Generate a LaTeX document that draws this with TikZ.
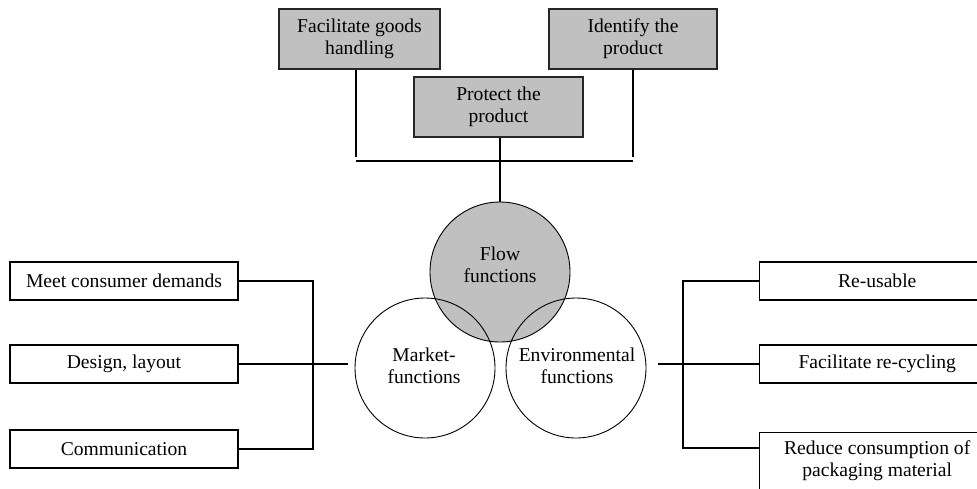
\documentclass[tikz,border=0pt]{standalone}
\usepackage{fontspec}
\setmainfont{Liberation Serif}
\definecolor{boxgray}{HTML}{C0C0C0}
\begin{document}
\begin{tikzpicture}[x=1pt,y=-1pt,
  font=\fontsize{19.6}{22}\selectfont,
  conn/.style={draw=black,line width=1.1pt},
  wbox/.style={draw=black,line width=1.4pt,fill=white,inner sep=0pt,align=center,minimum height=38pt},
  gbox/.style={draw=black!85,line width=1.4pt,fill=boxgray,inner sep=0pt,align=center,minimum height=60pt},
  circ/.style={circle,draw=black,line width=0.9pt,inner sep=0pt,minimum size=140pt,align=center}]
\useasboundingbox (0,0) rectangle (977,488);
% top grey boxes
\node[gbox,minimum width=161pt] (fac) at (359.5,39) {Facilitate goods\\handling};
\node[gbox,minimum width=168pt] (ident) at (633,39) {Identify the\\product};
\node[gbox,minimum width=169pt] (prot) at (498.5,107) {Protect the\\product};
% circles
\node[circ,fill=boxgray] (flow) at (500,272) {};
\node[circ] (market) at (425,368) {};
\node[circ] (env) at (576,368) {};
\node[align=center] (flowt) at (500,265) {Flow\\functions};
\node[align=center] (markett) at (424,366) {Market-\\functions};
\node[align=center] (envt) at (577,366) {Environmental\\functions};
% left boxes
\node[wbox,minimum width=228pt] (meet) at (124,281) {Meet consumer demands};
\node[wbox,minimum width=228pt] (design) at (124,364) {Design, layout};
\node[wbox,minimum width=228pt] (comm) at (124,449) {Communication};
% right boxes
\node[wbox,minimum width=235pt,anchor=west] (reuse) at (759,281) {Re-usable};
\node[wbox,minimum width=235pt,anchor=west] (recyc) at (759,364) {Facilitate re-cycling};
\node[wbox,minimum width=235pt,minimum height=0pt,inner ysep=8pt,text depth=9pt,anchor=north west] (reduce) at (759,432) {Reduce consumption of\\packaging material};
% connector coordinates
\coordinate (jl) at (356,161);
\coordinate (jr) at (633,161);
\coordinate (lv) at (313,449);
\coordinate (ml) at (348,364);
\coordinate (rv) at (683,448);
\coordinate (mr) at (658,364);
% top connectors
\draw[conn] (fac.south -| jl) -- ([yshift=4pt]jl);
\draw[conn] (ident.south -| jr) -- ([yshift=4pt]jr);
\draw[conn] (jl) -- (jr);
\draw[conn] (flow.north |- prot.south) -- (flow.north);
% left connectors
\draw[conn] (meet.east) -| (lv) -- (comm.east);
\draw[conn] (design.east) -- (ml);
% right connectors
\draw[conn] (reuse.west) -| (rv) -- (rv -| reduce.west);
\draw[conn] (mr) -- (recyc.west);
\end{tikzpicture}
\end{document}
